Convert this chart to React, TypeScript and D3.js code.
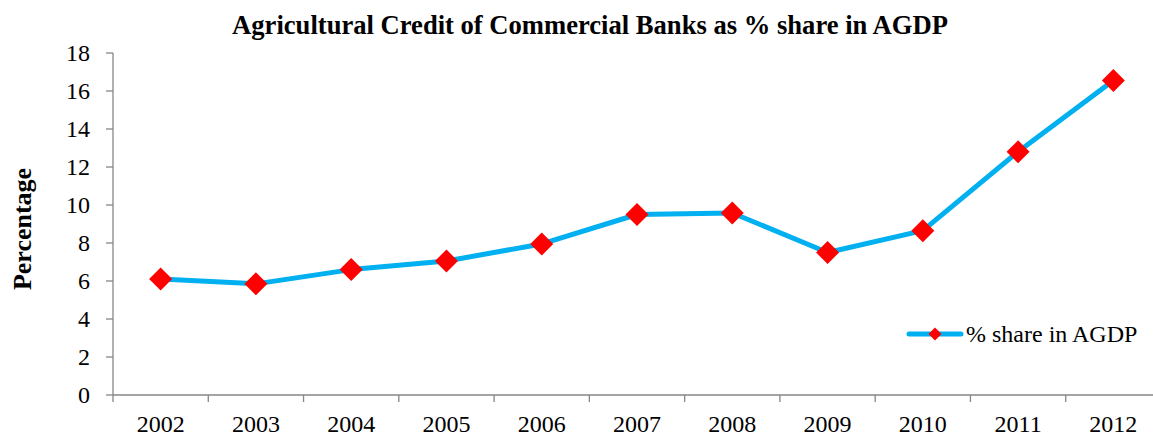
import React from "react";
import * as d3 from "d3";

const years = ["2002","2003","2004","2005","2006","2007","2008","2009","2010","2011","2012"];
const shareValues = [6.1, 5.85, 6.6, 7.05, 7.95, 9.5, 9.58, 7.5, 8.65, 12.8, 16.55];
const yTicks = [0, 2, 4, 6, 8, 10, 12, 14, 16, 18];
const title = "Agricultural Credit of Commercial Banks as % share in AGDP";
const seriesName = "% share in AGDP";
const yLabel = "Percentage";

const W = 1153, H = 436;
const left = 113, right = 1161, top = 53, bottom = 395;
const axisColor = "#868686";
const lineColor = "#00B0F0";
const font = "'Liberation Serif', 'Times New Roman', serif";

export default function App() {
  const x = d3.scaleBand<string>().domain(years).range([left, right]).padding(0);
  const y = d3.scaleLinear().domain([0, 18]).range([bottom, top]);
  const cx = (d: string) => (x(d) as number) + x.bandwidth() / 2;
  const line = d3.line<number>().x((_, i) => cx(years[i])).y((v) => y(v));
  const diamond = (px: number, py: number, r: number) =>
    `M${px},${py - r}L${px + r},${py}L${px},${py + r}L${px - r},${py}Z`;
  const boundaries = years.map((d) => x(d) as number).concat([right]);

  return (
    <svg width={W} height={H} style={{ position: "absolute", left: 0, top: 0 }} fontFamily={font}>
      <rect width={W} height={H} fill="#fff" />
      <text x={590} y={34} textAnchor="middle" fontSize={26.6} fontWeight="bold">{title}</text>
      <text transform={`translate(31,229) rotate(-90)`} textAnchor="middle" fontSize={26} fontWeight="bold">{yLabel}</text>
      {/* y axis */}
      <line x1={left} x2={left} y1={top} y2={bottom} stroke={axisColor} strokeWidth={1.3} />
      {yTicks.map((t) => (
        <g key={t}>
          <line x1={left - 7} x2={left} y1={y(t)} y2={y(t)} stroke={axisColor} strokeWidth={1.3} />
          <text x={90} y={y(t)} dy="0.35em" textAnchor="end" fontSize={24}>{t}</text>
        </g>
      ))}
      {/* x axis */}
      <line x1={left} x2={right} y1={bottom} y2={bottom} stroke={axisColor} strokeWidth={1.3} />
      {boundaries.map((b, i) => (
        <line key={i} x1={b} x2={b} y1={bottom} y2={bottom + 7} stroke={axisColor} strokeWidth={1.3} />
      ))}
      {years.map((d) => (
        <text key={d} x={cx(d)} y={432} textAnchor="middle" fontSize={24}>{d}</text>
      ))}
      {/* series */}
      <path d={line(shareValues) as string} fill="none" stroke={lineColor} strokeWidth={5} strokeLinejoin="round" />
      {shareValues.map((v, i) => (
        <path key={i} d={diamond(cx(years[i]), y(v), 11.5)} fill="#FF0000" />
      ))}
      {/* legend */}
      <line x1={909} x2={961} y1={334} y2={334} stroke={lineColor} strokeWidth={5} strokeLinecap="round" />
      <path d={diamond(935, 334, 6.5)} fill="#FF0000" />
      <text x={966} y={334} dy="0.35em" fontSize={24}>{seriesName}</text>
    </svg>
  );
}
